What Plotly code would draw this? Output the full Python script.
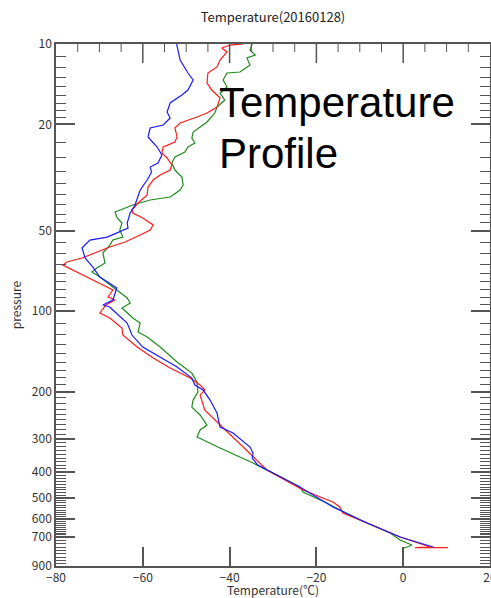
import plotly.graph_objects as go

# Sounding profiles: pressure (hPa) and temperature (degC)
pres_blue = [10, 11.48, 12.84, 13.64, 14.87, 15.52, 16.63, 17.97, 18.93, 20.1, 20.63, 22.29, 24.3,
             26.04, 27.9, 28.88, 30.2, 32.3, 35.2, 40.07, 42.93, 46.8, 48.86, 50.58, 52.81, 54.19,
             58.05, 63.27, 68.39, 74.54, 81.95, 90.87, 93.26, 94.87, 96.52, 99.06, 110.8, 122.9,
             136.3, 148.5, 161.9, 178.1, 189.2, 197.5, 215.3, 240.8, 271.6, 286.0, 322.7, 339.8,
             354.8, 376.9, 418.0, 455.6, 541.3, 621.4, 701.1, 764.3]
temp_blue = [-52.2, -51.4, -49.6, -48.4, -49.6, -51.0, -53.7, -54.4, -53.7, -55.3, -58.3, -58.8, -56.7,
             -55.6, -56.5, -58.3, -58.0, -59.0, -60.6, -61.8, -62.9, -63.6, -63.4, -65.7, -68.2, -72.2,
             -74.0, -73.3, -71.5, -69.9, -66.0, -66.9, -68.2, -69.2, -67.6, -66.9, -63.6, -62.5,
             -60.0, -56.0, -52.1, -48.7, -48.0, -46.1, -44.5, -42.9, -42.2, -39.2, -35.3, -34.6,
             -34.8, -33.5, -28.4, -23.8, -16.2, -8.3, -0.7, 6.9]

pres_red = [10.0, 10.09, 10.35, 10.71, 11.48, 12.19, 12.84, 14.0, 14.87, 15.93, 17.21, 18.13, 18.77,
            19.26, 19.76, 20.63, 22.29, 23.27, 24.3, 25.59, 26.72, 28.38, 29.64, 30.94, 32.3, 34.31,
            36.75, 39.38, 41.83, 42.93, 44.82, 47.61, 49.71, 51.9, 55.13, 57.54, 60.08, 63.27, 65.5,
            67.22, 76.49, 83.37, 88.55, 90.87, 94.87, 101.65, 106.1, 115.7, 122.9, 136.3, 149.8,
            163.4, 178.1, 189.2, 197.5, 206.2, 234.7, 262.4, 283.6, 309.0, 351.8, 393.4, 467.6,
            518.4, 541.3, 570.0, 621.4, 701.1, 764.3, 768.0, 768.0]
temp_red = [-36.9, -39.9, -41.8, -40.6, -42.2, -42.9, -45.0, -45.2, -44.1, -42.2, -42.9, -45.2, -47.5,
            -49.6, -51.4, -52.6, -52.1, -52.6, -55.3, -55.6, -54.4, -53.3, -53.7, -56.0, -57.6, -58.8,
            -59.0, -61.1, -62.5, -62.3, -60.0, -57.6, -58.3, -60.6, -64.1, -67.6, -70.6, -74.0, -77.5,
            -78.4, -71.5, -66.9, -68.0, -66.4, -68.5, -69.9, -67.6, -64.8, -64.6, -61.3, -57.6,
            -53.7, -49.1, -46.8, -45.7, -46.8, -45.7, -42.6, -40.6, -38.3, -34.6, -31.4, -23.1,
            -16.2, -14.6, -13.9, -8.3, -0.7, 6.2, 2.7, 10.3]

pres_green = [10.0, 10.53, 11.0, 11.28, 11.98, 12.73, 12.84, 13.64, 14.49, 15.26, 16.21, 17.21, 18.13,
              19.59, 20.45, 21.35, 22.49, 23.48, 24.3, 25.37, 26.49, 27.9, 29.64, 31.47, 33.72, 35.2,
              37.39, 38.37, 40.07, 42.56, 44.82, 46.8, 49.71, 52.81, 54.19, 56.57, 60.6, 66.07, 68.99,
              71.4, 74.54, 79.86, 85.55, 89.33, 93.26, 97.36, 106.1, 110.8, 119.7, 125.0, 136.3,
              155.1, 170.6, 184.4, 200.9, 215.3, 228.7, 244.9, 267.0, 278.7, 296.0, 309.0, 325.5,
              370.4, 455.6, 475.7, 523.0, 605.6, 677.3, 719.5, 751.2, 764.3, 770.9]
temp_green = [-34.8, -35.3, -34.1, -36.0, -35.3, -37.6, -40.6, -41.5, -40.6, -42.2, -41.1, -42.9, -43.4,
              -45.2, -46.8, -48.4, -48.7, -48.0, -49.6, -50.3, -52.6, -53.3, -52.6, -51.0, -50.7, -51.4,
              -53.7, -58.3, -62.3, -66.4, -65.9, -64.8, -65.3, -64.6, -66.9, -67.6, -69.2, -68.7, -70.6,
              -71.7, -69.9, -67.6, -65.3, -63.6, -62.9, -64.8, -62.3, -60.6, -61.1, -59.0, -56.0,
              -52.1, -48.7, -47.5, -47.3, -48.4, -48.7, -46.8, -45.2, -46.8, -47.5, -45.2, -42.2,
              -34.6, -23.8, -23.1, -17.6, -10.0, -3.0, -0.7, 2.0, 0.9, 0.2]

# Axis ticks
x_major = [-80, -60, -40, -20, 0, 20]
x_minor = [v for v in range(-75, 20, 5) if v % 20]
p_major = [10, 20, 50, 100, 200, 300, 400, 500, 600, 700, 900]
p_labels = [str(v) for v in p_major]

# eight evenly spaced minor ticks between each pair of labelled pressures
p_minor = []
for a, b in zip(p_major[:-1], p_major[1:]):
    p_minor += [a + (b - a) * k / 9 for k in range(1, 9)]

AX = "#555555"
FONT = "Noto Sans CJK SC, DejaVu Sans, sans-serif"
PLOT_H = 598 - 44 - 32   # plot area height in px

fig = go.Figure()
for p, t, c in [(pres_green, temp_green, "#1f8a1f"),
                (pres_red, temp_red, "#ff1a1a"),
                (pres_blue, temp_blue, "#1a1aff")]:
    fig.add_trace(go.Scatter(x=t, y=p, mode="lines", line=dict(color=c, width=1.2),
                             showlegend=False, hoverinfo="skip"))

# tick marks hanging from the top frame (major every 20, minor every 5)
for v, length, w in [(v, 19, 1.5) for v in x_major[1:-1]] + [(v, 8, 1) for v in x_minor]:
    fig.add_shape(type="line", xref="x", yref="paper", x0=v, x1=v,
                  y0=1, y1=1 - length / PLOT_H, line=dict(color=AX, width=w))

fig.update_layout(
    width=491, height=598,
    margin=dict(l=56, r=1, t=44, b=32, autoexpand=False),
    paper_bgcolor="white", plot_bgcolor="white",
    font=dict(family=FONT, size=12, color="#333333"),
    title=dict(text="Temperature(20160128)", x=273 / 491, xanchor="center",
               y=1 - 17 / 598, yanchor="middle", yref="container",
               font=dict(family=FONT, size=13, color="#222222")),
    xaxis=dict(range=[-80, 20], tickmode="array", tickvals=x_major,
               ticks="inside", ticklen=19, tickwidth=1.5, tickcolor=AX,
               ticklabeloverflow="allow", automargin=False,
               showline=True, linecolor=AX, linewidth=1.5, mirror=True,
               showgrid=False, zeroline=False,
               title=dict(text="Temperature(℃)", standoff=0, font=dict(size=12))),
    yaxis=dict(type="log", range=[2.9542425, 1], tickmode="array",
               tickvals=p_major, ticktext=p_labels, automargin=False,
               ticks="inside", ticklen=19, tickwidth=1.5, tickcolor=AX,
               minor=dict(tickmode="array", tickvals=p_minor, ticks="inside",
                          ticklen=10, tickwidth=1, tickcolor=AX),
               showline=True, linecolor=AX, linewidth=1.5, mirror="ticks",
               showgrid=False, zeroline=False,
               title=dict(text="pressure", standoff=8, font=dict(size=12))),
)

fig.add_annotation(text="Temperature", xref="paper", yref="paper",
                   x=(217 - 56) / 434, y=1 - (103 - 44) / 522,
                   xanchor="left", yanchor="middle", showarrow=False,
                   font=dict(family="Liberation Sans, Arial", size=42, color="black"))
fig.add_annotation(text="Profile", xref="paper", yref="paper",
                   x=(217 - 56) / 434, y=1 - (153 - 44) / 522,
                   xanchor="left", yanchor="middle", showarrow=False,
                   font=dict(family="Liberation Sans, Arial", size=42, color="black"))

fig.write_html("out.html")
